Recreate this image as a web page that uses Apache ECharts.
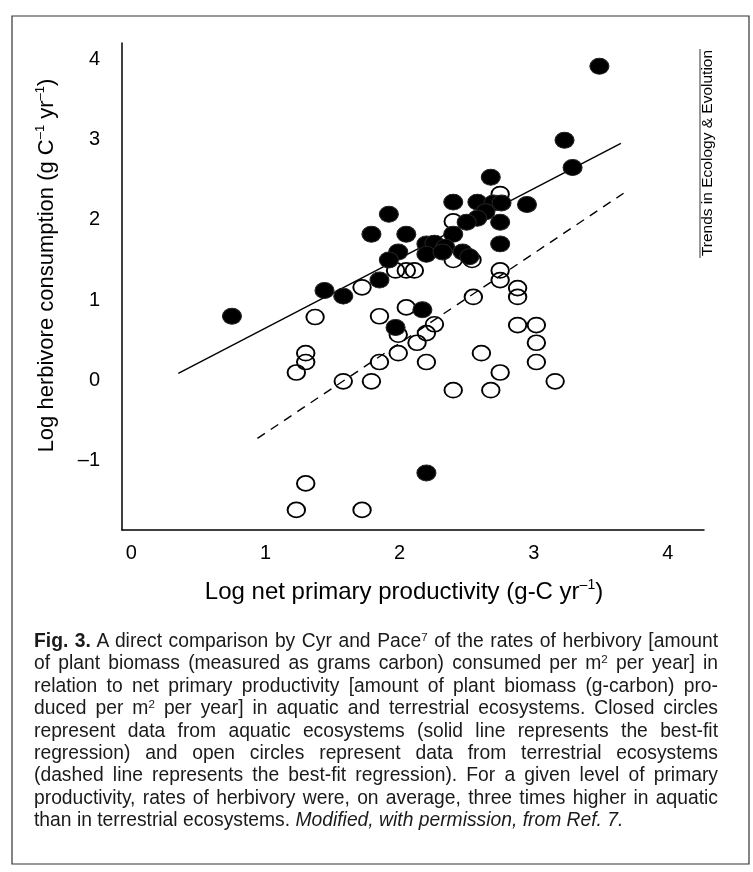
<!DOCTYPE html>
<html>
<head>
<meta charset="utf-8">
<title>Herbivory vs net primary productivity</title>
<script src="https://cdn.jsdelivr.net/npm/echarts@6.0.0/dist/echarts.min.js"></script>
<style>
  html, body { margin: 0; padding: 0; background: #fff; }
  #wrap { position: relative; width: 753px; height: 872px; }
  #chart { position: absolute; left: 0; top: 0; width: 753px; height: 872px; }
  #caption {
    position: absolute; left: 34px; top: 630px; width: 684px;
    font-family: 'Liberation Sans', Arial, sans-serif; font-size: 19.3px;
    line-height: 22.4px; color: #1a1a1a;
  }
  #caption div { text-align: justify; text-align-last: justify; }
  #caption div.last { text-align-last: left; }
  #caption sup { font-size: 0.6em; line-height: 0; vertical-align: 0.55em; }
</style>
</head>
<body>
<div id="wrap">
  <div id="chart"></div>
  <div id="caption"></div>
</div>
<script>
// tick labels
const xTicks = [0, 1, 2, 3, 4]
const yTicks = [-1, 0, 1, 2, 3, 4]

// closed circles: aquatic ecosystems (log NPP, log herbivore consumption)
const aquaticNpp = [3.49, 3.23, 3.29, 2.68, 2.40, 2.58, 2.70, 2.76, 2.95, 1.92, 1.79, 2.05, 2.40, 2.64, 2.58, 2.50, 2.75,
  2.75, 2.20, 2.26, 2.34, 2.20, 2.32, 2.47, 2.52, 1.99, 1.92, 1.85, 1.44, 1.58, 0.75, 2.17, 1.97, 2.20]
const aquaticHerb = [3.91, 2.99, 2.65, 2.53, 2.22, 2.22, 2.21, 2.21, 2.19, 2.07, 1.82, 1.82, 1.82, 2.10, 2.02, 1.97, 1.97,
  1.70, 1.70, 1.71, 1.66, 1.57, 1.60, 1.60, 1.54, 1.60, 1.50, 1.25, 1.12, 1.05, 0.80, 0.88, 0.66, -1.15]

// open circles: terrestrial ecosystems
const terrestrialNpp = [2.75, 2.40, 2.40, 2.54, 2.75, 2.75, 2.88, 2.88, 2.55, 1.72, 1.97, 2.05, 2.11, 1.37, 1.85, 2.05,
  1.99, 2.26, 2.20, 2.13, 1.99, 2.20, 1.85, 1.58, 1.79, 1.30, 1.30, 1.23, 2.88, 3.02, 3.02, 3.02, 2.61, 2.75, 3.16,
  2.40, 2.68, 1.30, 1.23, 1.72]
const terrestrialHerb = [2.32, 1.98, 1.50, 1.50, 1.37, 1.25, 1.15, 1.04, 1.04, 1.16, 1.37, 1.37, 1.37, 0.79, 0.80, 0.91,
  0.57, 0.70, 0.59, 0.47, 0.34, 0.23, 0.23, -0.01, -0.01, 0.34, 0.23, 0.10, 0.69, 0.69, 0.47, 0.23, 0.34, 0.10, -0.01,
  -0.12, -0.12, -1.28, -1.61, -1.61]

// best-fit regression end points
const aquaticFitX = [0.35, 3.65]
const aquaticFitY = [0.09, 2.95]
const terrestrialFitX = [0.94, 3.67]
const terrestrialFitY = [-0.72, 2.33]

const captionLines = [
  '<b>Fig. 3.</b> A direct comparison by Cyr and Pace<sup>7</sup> of the rates of herbivory [amount',
  'of plant biomass (measured as grams carbon) consumed per m<sup>2</sup> per year] in',
  'relation to net primary productivity [amount of plant biomass (g-carbon) pro-',
  'duced per m<sup>2</sup> per year] in aquatic and terrestrial ecosystems. Closed circles',
  'represent data from aquatic ecosystems (solid line represents the best-fit',
  'regression) and open circles represent data from terrestrial ecosystems',
  '(dashed line represents the best-fit regression). For a given level of primary',
  'productivity, rates of herbivory were, on average, three times higher in aquatic',
  'than in terrestrial ecosystems. <i>Modified, with permission, from Ref. 7.</i>'
]

const font = "'Liberation Sans', Arial, sans-serif"
const zip = (xs, ys) => xs.map((x, i) => [x, ys[i]])

document.getElementById('caption').innerHTML = captionLines
  .map((l, i) => `<div${i === captionLines.length - 1 ? ' class="last"' : ''}>${l}</div>`)
  .join('')

const chart = echarts.init(document.getElementById('chart'), null, { renderer: 'canvas' })

const nameRich = (size) => ({
  n: { fontSize: size, lineHeight: size + 4, fontFamily: font, color: '#000' },
  s: { fontSize: Math.round(size * 0.58), lineHeight: Math.round(size * 0.6), verticalAlign: 'top', fontFamily: font, color: '#000' }
})

chart.setOption({
  animation: false,
  backgroundColor: '#fff',
  grid: { left: 122, right: 49, top: 43, bottom: 342, outerBoundsMode: 'none' },
  xAxis: {
    type: 'value',
    min: -0.07,
    max: 4.27,
    name: '{n|Log net primary productivity (g-C yr}{s|\u20131}{n|)}',
    nameLocation: 'middle',
    nameGap: 48,
    nameTextStyle: { padding: [0, 18, 0, 0], rich: nameRich(24) },
    axisLine: { onZero: false, lineStyle: { color: '#000', width: 1.5 } },
    axisTick: { show: false },
    splitLine: { show: false },
    axisLabel: { customValues: xTicks, margin: 13, fontSize: 20, fontFamily: font, color: '#000' }
  },
  yAxis: {
    type: 'value',
    min: -1.86,
    max: 4.2,
    name: '{n|Log herbivore consumption (g C}{s|\u20131}{n| yr}{s|\u20131}{n|)}',
    nameLocation: 'middle',
    nameGap: 62,
    nameTextStyle: { padding: [0, 0, 0, 42], rich: nameRich(22) },
    axisLine: { onZero: false, lineStyle: { color: '#000', width: 1.5 } },
    axisTick: { show: false },
    splitLine: { show: false },
    axisLabel: {
      customValues: yTicks,
      margin: 22,
      fontSize: 20,
      fontFamily: font,
      color: '#000',
      formatter: v => (v < 0 ? '\u2013' + (-v) : String(v))
    }
  },
  series: [
    {
      type: 'line',
      data: zip(aquaticFitX, aquaticFitY),
      symbol: 'none',
      lineStyle: { color: '#000', width: 1.4 },
      z: 1
    },
    {
      type: 'line',
      data: zip(terrestrialFitX, terrestrialFitY),
      symbol: 'none',
      lineStyle: { color: '#000', width: 1.4, type: [9, 7] },
      z: 1
    },
    {
      name: 'terrestrial',
      type: 'scatter',
      data: zip(terrestrialNpp, terrestrialHerb),
      symbol: 'circle',
      symbolSize: [17.5, 15],
      itemStyle: { color: 'rgba(255,255,255,0)', borderColor: '#000', borderWidth: 1.8, opacity: 1 },
      z: 2
    },
    {
      name: 'aquatic',
      type: 'scatter',
      data: zip(aquaticNpp, aquaticHerb),
      symbol: 'circle',
      symbolSize: [19, 16],
      itemStyle: { color: '#000', borderColor: '#222', borderWidth: 1, opacity: 1 },
      z: 3
    }
  ],
  graphic: [
    // outer frame of the figure
    {
      type: 'rect',
      shape: { x: 12, y: 16, width: 737, height: 848 },
      style: { fill: 'none', stroke: '#333', lineWidth: 1.2 },
      silent: true
    },
    // journal credit, rotated, with overline
    {
      type: 'text',
      x: 708,
      y: 153,
      rotation: Math.PI / 2,
      style: {
        text: 'Trends in Ecology & Evolution',
        fontSize: 15.5,
        fontFamily: font,
        fill: '#000',
        align: 'center',
        verticalAlign: 'middle'
      },
      silent: true
    },
    {
      type: 'line',
      shape: { x1: 700, y1: 49, x2: 700, y2: 258 },
      style: { stroke: '#333', lineWidth: 1 },
      silent: true
    }
  ]
})
</script>
</body>
</html>
